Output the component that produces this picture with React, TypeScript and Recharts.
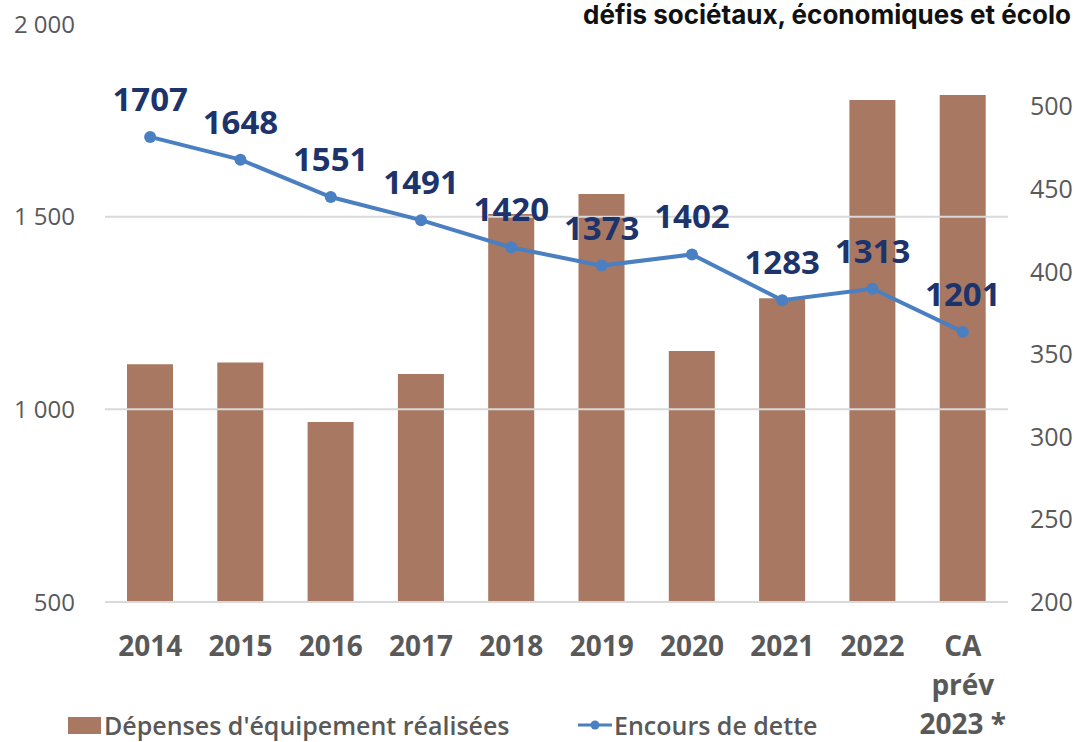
import React from "react";
import { ComposedChart, Bar, Line, XAxis, YAxis, ReferenceLine, LabelList } from "recharts";

const categories = ["2014", "2015", "2016", "2017", "2018", "2019", "2020", "2021", "2022", "CA\nprév\n2023 *"];
const equipement = [344, 345, 309, 338, 435, 447, 352, 384, 504, 507];
const dette = [1707, 1648, 1551, 1491, 1420, 1373, 1402, 1283, 1313, 1201];
const leftTicks = [500, 1000, 1500, 2000];
const rightTicks = [200, 250, 300, 350, 400, 450, 500];
const gridValues = [500, 1000, 1500];
const seriesNames = ["Dépenses d'équipement réalisées", "Encours de dette"];
const titleText = "défis sociétaux, économiques et écolo";

const BAR_COLOR = "#A97862";
const LINE_COLOR = "#4A7FC1";
const LABEL_COLOR = "#1C336B";
const AXIS_COLOR = "#595959";
const FONT = "'Open Sans', 'DejaVu Sans', sans-serif";

const data = categories.map((c, i) => ({ cat: c, equipement: equipement[i], dette: dette[i] }));

const fmtLeft = (v: number) => (v >= 1000 ? String(v).replace(/(\d)(\d{3})$/, "$1 $2") : String(v));

const XTick = (props: any) => {
  const { x, y, payload } = props;
  const lines = String(payload.value).split("\n");
  return (
    <g>
      {lines.map((l, i) => (
        <text key={i} x={x} y={y + 52 + i * 39} textAnchor="middle" fill={AXIS_COLOR}
          style={{ fontFamily: FONT, fontSize: 28, fontWeight: 700 }}>
          {l}
        </text>
      ))}
    </g>
  );
};

const DetteLabel = (props: any) => {
  const { x, y, value } = props;
  return (
    <text x={x} y={y - 26} textAnchor="middle" fill={LABEL_COLOR}
      style={{ fontFamily: FONT, fontSize: 33, fontWeight: 700 }}>
      {value}
    </text>
  );
};

export default function App() {
  return (
    <div style={{ position: "absolute", left: 0, top: 0, width: 1081, height: 742, background: "#fff", overflow: "hidden", fontFamily: FONT }}>
      <div style={{ position: "absolute", left: 583, top: 0, fontFamily: "Inter, 'Noto Sans', sans-serif", fontWeight: 700, fontSize: 26, color: "#111", whiteSpace: "nowrap", lineHeight: "30px" }}>
        {titleText}
      </div>
      <ComposedChart width={1081} height={742} data={data} margin={{ top: 24, right: 0, bottom: 0, left: 0 }}>
        {gridValues.map((g) => (
          <ReferenceLine key={g} yAxisId="left" y={g} stroke="#D9D9D9" strokeWidth={2} />
        ))}
        <XAxis dataKey="cat" height={140} tick={<XTick />} tickLine={false} axisLine={false} tickSize={0} interval={0} />
        <YAxis yAxisId="left" orientation="left" width={105} domain={[500, 2000]} ticks={leftTicks}
          tickFormatter={fmtLeft} axisLine={false} tickLine={false} tickSize={0} tickMargin={30}
          tick={{ fill: AXIS_COLOR, fontSize: 24, fontFamily: FONT }} />
        <YAxis yAxisId="right" orientation="right" width={73} domain={[200, 550]} ticks={rightTicks}
          axisLine={false} tickLine={false} tickSize={0} tickMargin={22}
          tick={{ fill: AXIS_COLOR, fontSize: 25, fontFamily: FONT }} />
        <Bar yAxisId="right" dataKey="equipement" name={seriesNames[0]} fill={BAR_COLOR} barSize={46} isAnimationActive={false} />
        <Line yAxisId="left" dataKey="dette" name={seriesNames[1]} stroke={LINE_COLOR} strokeWidth={4}
          dot={{ r: 6, fill: LINE_COLOR, stroke: LINE_COLOR, strokeWidth: 0 }} activeDot={false} isAnimationActive={false}>
          <LabelList dataKey="dette" content={<DetteLabel />} />
        </Line>
      </ComposedChart>
      <div style={{ position: "absolute", left: 68, top: 710, display: "flex", alignItems: "center", fontSize: 25, lineHeight: "30px", color: AXIS_COLOR, fontWeight: 600, whiteSpace: "nowrap" }}>
        <span style={{ display: "inline-block", width: 33, height: 17, background: BAR_COLOR, marginRight: 3 }} />
        <span>{seriesNames[0]}</span>
      </div>
      <div style={{ position: "absolute", left: 578, top: 710, display: "flex", alignItems: "center", fontSize: 25, lineHeight: "30px", color: AXIS_COLOR, fontWeight: 600, whiteSpace: "nowrap" }}>
        <svg width={34} height={14} style={{ marginRight: 2 }}>
          <line x1={0} y1={7} x2={34} y2={7} stroke={LINE_COLOR} strokeWidth={3} />
          <circle cx={17} cy={7} r={4.5} fill={LINE_COLOR} />
        </svg>
        <span>{seriesNames[1]}</span>
      </div>
    </div>
  );
}
